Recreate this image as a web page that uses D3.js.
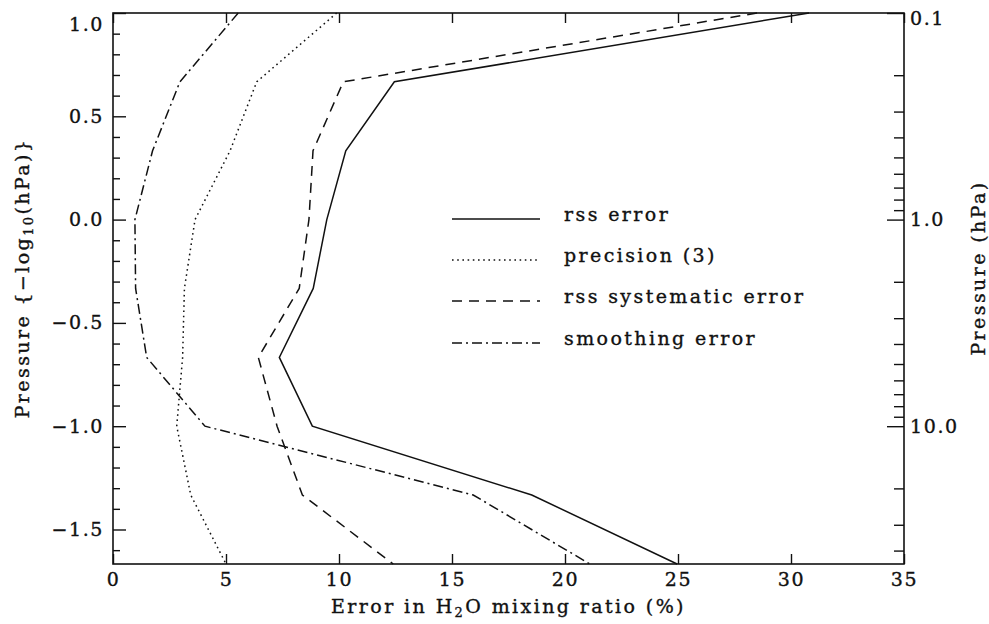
<!DOCTYPE html>
<html><head><meta charset="utf-8">
<script src="https://cdn.jsdelivr.net/npm/d3@7"></script>
<style>
body{margin:0;background:#fff;}
svg text{font-family:"DejaVu Serif",serif;font-size:19px;fill:#111;letter-spacing:2.4px;stroke:#111;stroke-width:0.35px;}
</style></head><body>
<svg id="c" width="989" height="624"></svg>
<script>
// pressure levels as -log10(p/hPa)
const levels = [1.0, 0.667, 0.333, 0.0, -0.333, -0.667, -1.0, -1.333, -1.667];
const rssError   = [30.8, 12.45, 10.3, 9.46, 8.86, 7.36, 8.82, 18.53, 24.96];
const precision  = [9.9, 6.36, 5.18, 3.63, 3.16, 3.08, 2.82, 3.44, 5.0];
const rssSystematic = [28.5, 10.19, 8.85, 8.67, 8.24, 6.43, 7.26, 8.38, 12.4];
const smoothing  = [5.54, 2.96, 1.75, 0.97, 1.0, 1.49, 4.07, 15.94, 21.1];
const seriesNames = ["rss error", "precision (3)", "rss systematic error", "smoothing error"];
const xTicks = [0, 5, 10, 15, 20, 25, 30, 35];
const yTicks = [1.0, 0.5, 0.0, -0.5, -1.0, -1.5];
const pMajor = [0.1, 1.0, 10.0];
const pMinor = [0.2,0.3,0.4,0.5,0.6,0.7,0.8,0.9,2,3,4,5,6,7,8,9,20,30,40];

const L=113, R=904, T=13, B=564;
const svg = d3.select("#c");
const x = d3.scaleLinear().domain([0,35]).range([L,R]);
const y = d3.scaleLinear().domain([-1.667,1.0]).range([B,T]);

const series = [
  {v: rssError, dash: null},
  {v: precision, dash: "1.6,3.6"},
  {v: rssSystematic, dash: "10,7"},
  {v: smoothing, dash: "10,4,2,4"}
];

const line = d3.line().x(d=>x(d[0])).y(d=>y(d[1]));
const g = svg.append("g");
series.forEach(s=>{
  g.append("path").datum(s.v.map((v,i)=>[v,levels[i]]))
   .attr("d", line).attr("fill","none").attr("stroke","#111")
   .attr("stroke-width",1.5).attr("stroke-dasharray", s.dash);
});

// bottom
svg.append("g").attr("transform",`translate(0,${B})`)
  .call(d3.axisBottom(x).tickValues(xTicks).tickSize(-10).tickPadding(9).tickFormat(d3.format("d")));
// top
svg.append("g").attr("transform",`translate(0,${T})`)
  .call(d3.axisTop(x).tickValues(xTicks).tickSize(-10).tickFormat(""));
// left major
const lAxis = svg.append("g").attr("class","left").attr("transform",`translate(${L},0)`)
  .call(d3.axisLeft(y).tickValues(yTicks).tickSize(-13).tickPadding(9).tickFormat(d=>d3.format(".1f")(d).replace("-","\u2212")));
lAxis.selectAll(".tick text").filter(d=>d===1.0).attr("dy","0.9em");
// left minor
const minorY = d3.range(-16,11).map(i=>i/10).filter(v=>Math.abs(v*2-Math.round(v*2))>1e-6);
svg.append("g").attr("transform",`translate(${L},0)`)
  .call(d3.axisLeft(y).tickValues(minorY).tickSize(-7).tickFormat(""));
// right
const rAxis = svg.append("g").attr("transform",`translate(${R},0)`)
  .call(d3.axisRight(y)
    .tickValues(pMajor.map(p=>-Math.log10(p))).tickSize(-17).tickPadding(6)
    .tickFormat((d,i)=>d3.format(".1f")(pMajor[i])));
rAxis.selectAll(".tick text").filter((d,i)=>i===0).attr("dy","0.6em");
svg.append("g").attr("transform",`translate(${R},0)`)
  .call(d3.axisRight(y).tickValues(pMinor.map(p=>-Math.log10(p))).tickSize(-10).tickFormat(""));

svg.selectAll(".domain").remove();
svg.selectAll(".tick line").attr("stroke","#111").attr("stroke-width",1.4);
svg.selectAll(".tick text").attr("fill","#111").style("letter-spacing","1.6px");
svg.selectAll("g").attr("font-family",null).attr("font-size",null);

// frame
svg.append("rect").attr("x",L).attr("y",T).attr("width",R-L).attr("height",B-T)
  .attr("fill","none").attr("stroke","#111").attr("stroke-width",1.6);

// titles
const xt = svg.append("text").attr("x",(L+R)/2).attr("y",613).attr("text-anchor","middle");
xt.append("tspan").text("Error in H");
xt.append("tspan").text("2").attr("font-size","13px").attr("dy",4);
xt.append("tspan").text("O mixing ratio (%)").attr("dy",-4);

const yt = svg.append("text").attr("transform","translate(29,278) rotate(-90)").attr("text-anchor","middle");
yt.append("tspan").text("Pressure {\u2212log");
yt.append("tspan").text("10").attr("font-size","13px").attr("dy",4);
yt.append("tspan").text("(hPa)}").attr("dy",-4);

svg.append("text").attr("transform","translate(985,268) rotate(-90)").attr("text-anchor","middle").text("Pressure (hPa)");

// legend
const legY = [219,260,301,343];
series.forEach((s,i)=>{
  svg.append("line").attr("x1",452).attr("x2",540).attr("y1",legY[i]).attr("y2",legY[i])
    .attr("stroke","#111").attr("stroke-width",1.5).attr("stroke-dasharray",s.dash);
  svg.append("text").attr("x",564).attr("y",legY[i]).attr("dy","0.12em").text(seriesNames[i]);
});
</script></body></html>
